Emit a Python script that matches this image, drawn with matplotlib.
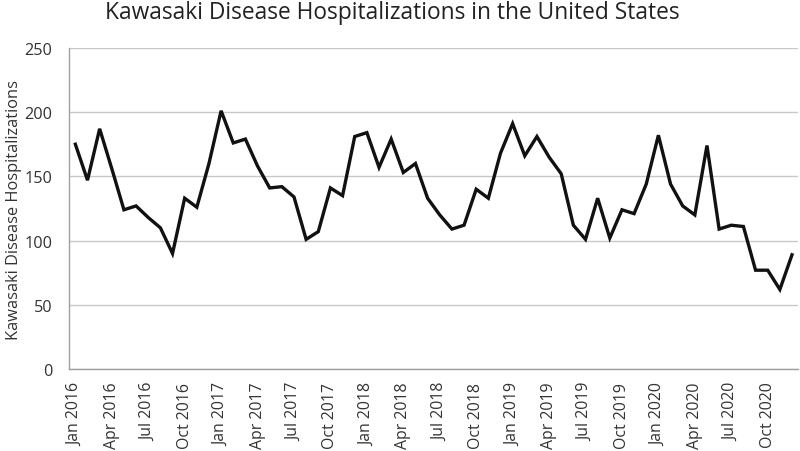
import matplotlib
matplotlib.use("Agg")
import matplotlib.pyplot as plt
import numpy as np

# Monthly Kawasaki disease hospitalizations, Jan 2016 - Dec 2020
months = [f"{m} {y}" for y in range(2016, 2021)
          for m in ["Jan", "Feb", "Mar", "Apr", "May", "Jun",
                    "Jul", "Aug", "Sep", "Oct", "Nov", "Dec"]]
hosp_2016 = [175, 147, 187, 156, 124, 127, 118, 110, 90, 133, 126, 160]
hosp_2017 = [201, 176, 179, 158, 141, 142, 134, 101, 107, 141, 135, 181]
hosp_2018 = [184, 157, 179, 153, 160, 133, 120, 109, 112, 140, 133, 168]
hosp_2019 = [191, 166, 181, 165, 152, 112, 101, 133, 102, 124, 121, 144]
hosp_2020 = [182, 144, 127, 120, 174, 109, 112, 111, 77, 77, 62, 89]
hospitalizations = hosp_2016 + hosp_2017 + hosp_2018 + hosp_2019 + hosp_2020

plt.rcParams['font.family'] = ['Open Sans', 'DejaVu Sans']

fig = plt.figure(figsize=(8, 4.52), dpi=100)
ax = fig.add_axes([0.0866, 0.181, 0.911, 0.711])

x = np.arange(len(hospitalizations))
ax.plot(x, hospitalizations, color='#111111', linewidth=2.4,
        solid_joinstyle='miter')

ax.set_xlim(-0.5, len(hospitalizations) - 0.5)
ax.set_ylim(0, 250)
ax.set_yticks(np.arange(0, 251, 50))
ax.set_xticks(x[::3])
ax.set_xticklabels(months[::3], rotation=90)
ax.tick_params(axis='y', length=0, labelsize=11.7, colors='#333333', pad=12)
ax.tick_params(axis='x', length=0, labelsize=11.4, colors='#333333', pad=9)

ax.grid(axis='y', color='#c8c8c8', linewidth=1)
ax.set_axisbelow(True)
for side in ['top', 'right']:
    ax.spines[side].set_visible(False)
for side in ['left', 'bottom']:
    ax.spines[side].set_color('#a0a0a0')
    ax.spines[side].set_linewidth(1)

ax.set_ylabel('Kawasaki Disease Hospitalizations', fontsize=11.8,
              color='#333333', labelpad=2)
fig.text(0.49, 1 - 13 / 452,
         'Kawasaki Disease Hospitalizations in the United States',
         fontsize=16.4, color='#222222', ha='center', va='center')

fig.savefig('out.png', dpi=100)
